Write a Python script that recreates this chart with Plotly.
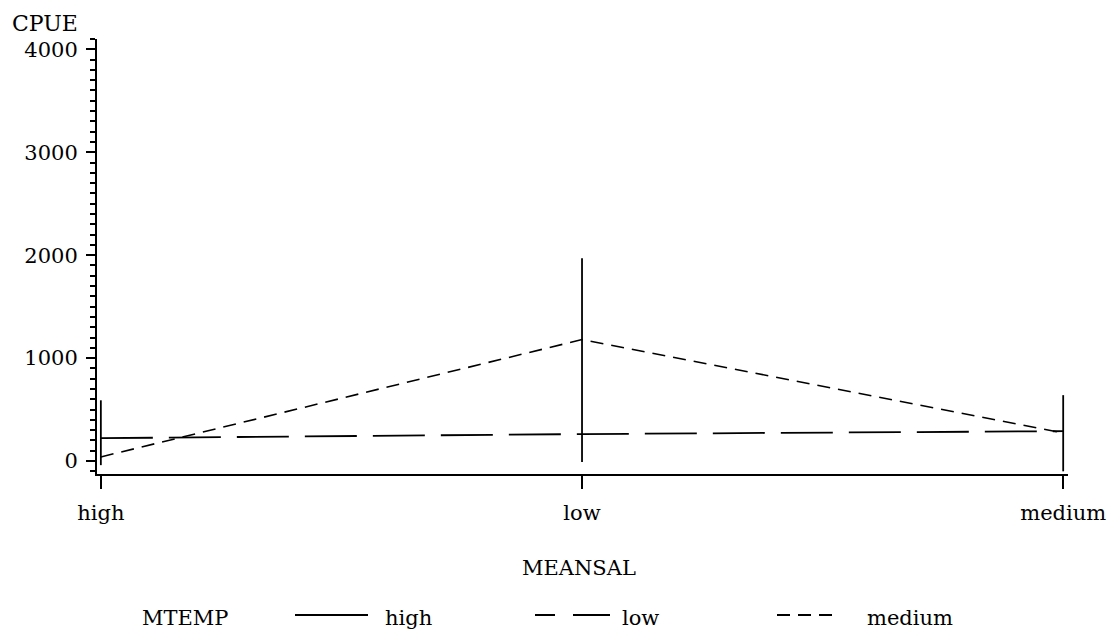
import plotly.graph_objects as go

# MEANSAL categories on the x axis
meansal = ["high", "low", "medium"]

# MTEMP = high: vertical spread at each salinity level (lower / upper CPUE)
high_lo = [-40, -10, -100]
high_hi = [590, 1970, 640]

# MTEMP = low and medium: mean CPUE per salinity level
low_cpue = [222, 262, 290]
medium_cpue = [40, 1180, 272]

y_ticks = [0, 1000, 2000, 3000, 4000]

FONT = "DejaVu Serif"
W, H = 1109, 633
L, R, T, B = 97, 41, 39, 159

LOW_DASH = "52px,16px"
MED_DASH = "13px,8px"

fig = go.Figure()

# high: one vertical segment per category, separated by gaps
xs, ys = [], []
for cat, lo, hi in zip(meansal, high_lo, high_hi):
    xs += [cat, cat, None]
    ys += [lo, hi, None]
fig.add_trace(go.Scatter(x=xs, y=ys, mode="lines", name="high",
                         line=dict(color="black", width=1.8),
                         connectgaps=False, showlegend=False))

fig.add_trace(go.Scatter(x=meansal, y=low_cpue, mode="lines", name="low",
                         line=dict(color="black", width=1.8, dash=LOW_DASH),
                         showlegend=False))

fig.add_trace(go.Scatter(x=meansal, y=medium_cpue, mode="lines", name="medium",
                         line=dict(color="black", width=1.6, dash=MED_DASH),
                         showlegend=False))

fig.update_xaxes(type="category", range=[-0.008, 2.01], automargin=False,
                 showline=True, linecolor="black", linewidth=2,
                 ticks="outside", ticklen=13, tickwidth=2, tickcolor="black",
                 showgrid=False, zeroline=False,
                 tickfont=dict(family=FONT, size=21, color="black"),
                 ticklabelstandoff=6)

fig.update_yaxes(range=[-126, 4100], tickvals=y_ticks, automargin=False,
                 ticktext=[str(v) for v in y_ticks],
                 showline=True, linecolor="black", linewidth=2,
                 ticks="outside", ticklen=9, tickwidth=2, tickcolor="black",
                 minor=dict(dtick=100, ticks="outside", ticklen=5,
                            tickwidth=1.5, tickcolor="black", showgrid=False),
                 showgrid=False, zeroline=False,
                 tickfont=dict(family=FONT, size=21, color="black"),
                 ticklabelstandoff=4)

pw = W - L - R
ph = H - T - B


def px(x):
    return (x - L) / pw


def py(y):
    return (H - B - y) / ph


annotations = [
    dict(text="CPUE", x=px(10), y=py(24), xanchor="left", yanchor="middle",
         font=dict(family=FONT, size=22, color="black")),
    dict(text="MEANSAL", x=px(579), y=py(568), xanchor="center", yanchor="middle",
         font=dict(family=FONT, size=21, color="black")),
    dict(text="MTEMP", x=px(140), y=py(632), xanchor="left", yanchor="bottom",
         font=dict(family=FONT, size=21, color="black")),
]

# legend samples drawn at the bottom: (label, line start, line end, text start, dash)
legend_items = [
    ("high", 295, 368, 383, "solid"),
    ("low", 535, 610, 620, "20px,18px,37px"),
    ("medium", 777, 838, 865, MED_DASH),
]
shapes = []
for name, x0, x1, xt, dash in legend_items:
    shapes.append(dict(type="line", xref="paper", yref="paper",
                       x0=px(x0), x1=px(x1), y0=py(615), y1=py(615),
                       line=dict(color="black", width=1.8, dash=dash)))
    annotations.append(dict(text=name, x=px(xt), y=py(632), xanchor="left",
                            yanchor="bottom",
                            font=dict(family=FONT, size=21, color="black")))

for a in annotations:
    a.update(xref="paper", yref="paper", showarrow=False)

fig.update_layout(width=W, height=H,
                  margin=dict(l=L, r=R, t=T, b=B),
                  paper_bgcolor="white", plot_bgcolor="white",
                  showlegend=False,
                  annotations=annotations, shapes=shapes)

fig.write_html("out.html")
